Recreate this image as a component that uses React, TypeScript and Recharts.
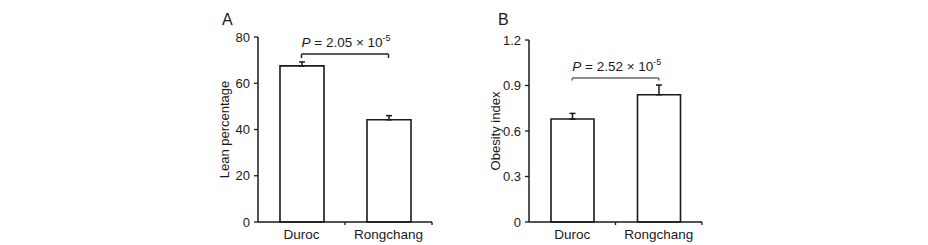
import { Bar, BarChart, ErrorBar, ReferenceLine, XAxis, YAxis } from 'recharts';

// values
const categories = ['Duroc', 'Rongchang'];
const leanMeans = [67.5, 44.2];
const leanErrors = [1.7, 1.8];
const leanTicks = [0, 20, 40, 60, 80];
const leanBracket = [72.6, 70.9];

const obesityMeans = [0.679, 0.839];
const obesityErrors = [0.037, 0.064];
const obesityTicks = [0, 0.3, 0.6, 0.9, 1.2];
const obesityBracket = [0.949, 0.933];

const FONT = '"Liberation Sans", Arial, sans-serif';
const INK = '#1a1a1a';

const leanData = categories.map((name, i) => ({ name, value: leanMeans[i], err: [0, leanErrors[i]] }));
const obesityData = categories.map((name, i) => ({ name, value: obesityMeans[i], err: [0, obesityErrors[i]] }));

function CategoryTick(props: any) {
  const { x, y, payload } = props;
  const off = payload?.offset ?? 0;
  return (
    <g>
      <text x={x} y={y + 17} textAnchor="middle" fontSize={13.5} fontFamily={FONT} fill={INK}>
        {payload.value}
      </text>
      {off ? <line x1={x + off} x2={x + off} y1={y} y2={y + 3} stroke={INK} strokeWidth={1.3} /> : null}
    </g>
  );
}

function axisLabel(text: string) {
  return (props: any) => {
    const { x, y, height } = props.viewBox;
    const cx = x + 6.5;
    const cy = y + height / 2;
    return (
      <text
        x={cx}
        y={cy}
        transform={`rotate(-90, ${cx}, ${cy})`}
        textAnchor="middle"
        dominantBaseline="central"
        fontSize={13}
        fontFamily={FONT}
        fill={INK}
      >
        {text}
      </text>
    );
  };
}

function pLabel(value: string, gap: number) {
  return (props: any) => {
    const { x, y } = props.viewBox;
    return (
      <text x={x} y={y - gap} fontSize={13.5} fontFamily={FONT} fill={INK}>
        <tspan fontStyle="italic">P</tspan>
        {` = ${value} × 10`}
        <tspan dy={-6} fontSize={9}>-5</tspan>
      </text>
    );
  };
}

interface PanelProps {
  data: any[];
  ticks: number[];
  bracket: number[];
  label: string;
  pValue: string;
  gap: number;
  bracketColor: string;
  width: number;
  margin: { top: number; right: number; bottom: number; left: number };
  barSize: number;
  fmt?: (v: number) => string;
}

function Panel(p: PanelProps) {
  const [top, end] = p.bracket;
  return (
    <BarChart width={p.width} height={245} data={p.data} margin={p.margin}>
      <XAxis
        dataKey="name"
        height={20}
        tickLine={false}
        tickSize={0}
        tickMargin={0}
        tick={<CategoryTick />}
        axisLine={{ stroke: INK, strokeWidth: 1.5 }}
        interval={0}
      />
      <YAxis
        width={40}
        domain={[p.ticks[0], p.ticks[p.ticks.length - 1]]}
        ticks={p.ticks}
        tickSize={4}
        tickMargin={4}
        tickFormatter={p.fmt}
        axisLine={{ stroke: INK, strokeWidth: 1.5 }}
        tickLine={{ stroke: INK, strokeWidth: 1.3 }}
        tick={{ fontSize: 13, fontFamily: FONT, fill: INK }}
        label={axisLabel(p.label)}
      />
      <Bar dataKey="value" fill="#fff" stroke={INK} strokeWidth={1.6} barSize={p.barSize} isAnimationActive={false}>
        <ErrorBar dataKey="err" width={3} stroke={INK} strokeWidth={1.5} direction="y" />
      </Bar>
      <ReferenceLine
        segment={[{ x: categories[0], y: top }, { x: categories[1], y: top }]}
        stroke={p.bracketColor}
        strokeWidth={1.5}
        label={pLabel(p.pValue, p.gap)}
      />
      <ReferenceLine
        segment={[{ x: categories[0], y: top }, { x: categories[0], y: end }]}
        stroke={p.bracketColor}
        strokeWidth={1.5}
      />
      <ReferenceLine
        segment={[{ x: categories[1], y: top }, { x: categories[1], y: end }]}
        stroke={p.bracketColor}
        strokeWidth={1.5}
      />
    </BarChart>
  );
}

export default function App() {
  return (
    <div style={{ position: 'absolute', left: 0, top: 0, width: 928, height: 245, background: '#fff' }}>
      <svg width={928} height={245} style={{ position: 'absolute', left: 0, top: 0 }}>
        <text x={222} y={25} fontSize={16} fontFamily={FONT} fill={INK}>A</text>
        <text x={498} y={25} fontSize={16} fontFamily={FONT} fill={INK}>B</text>
      </svg>
      <div style={{ position: 'absolute', left: 200, top: 0 }}>
        <Panel
          data={leanData}
          ticks={leanTicks}
          bracket={leanBracket}
          label="Lean percentage"
          pValue="2.05"
          gap={7}
          bracketColor="#222"
          width={260}
          margin={{ top: 37, right: 28, bottom: 3, left: 18 }}
          barSize={44}
        />
      </div>
      <div style={{ position: 'absolute', left: 470, top: 0 }}>
        <Panel
          data={obesityData}
          ticks={obesityTicks}
          bracket={obesityBracket}
          label="Obesity index"
          pValue="2.52"
          gap={7}
          bracketColor="#666"
          width={250}
          margin={{ top: 40, right: 18, bottom: 3, left: 19 }}
          barSize={43}
          fmt={(v) => (v === 0 ? '0' : v.toFixed(1))}
        />
      </div>
    </div>
  );
}
